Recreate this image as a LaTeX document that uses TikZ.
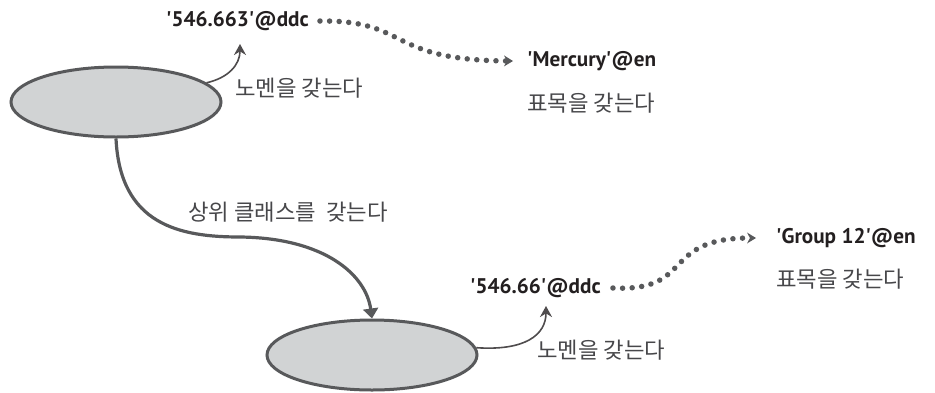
\documentclass[tikz,border=0pt]{standalone}
\usepackage{fontspec}
\setmainfont{PT Sans}
\newfontfamily\krfont{Noto Sans CJK KR}
\usetikzlibrary{arrows.meta,shapes.geometric}
\definecolor{linec}{HTML}{58595B}
\definecolor{fillc}{HTML}{D1D3D4}
\definecolor{txtc}{HTML}{231F20}
\definecolor{krc}{HTML}{47474A}
\newcommand{\sq}{\textquotesingle}
\tikzset{
  cls/.style={ellipse, draw=linec, fill=fillc, line width=3pt, minimum width=210pt, minimum height=70pt, inner sep=0pt},
  lit/.style={font=\fontsize{21.2}{23}\selectfont\bfseries, text=txtc, inner sep=0pt, anchor=west},
  kr/.style={font=\krfont\fontsize{22.3}{24}\selectfont, text=krc, inner sep=0pt, anchor=west},
  dotline/.style={draw=linec, line width=5.5pt, line cap=round, dash pattern=on 0pt off 9.6pt, -{Stealth[length=9pt,width=11pt,line width=0pt]}},
  thin/.style={draw=txtc!80, line width=1.6pt, -{Stealth[length=11pt,width=12pt]}},
  thick/.style={draw=linec, line width=3.2pt, -{Triangle[length=10pt,width=15pt]}}
}
\begin{document}
\begin{tikzpicture}[x=1pt,y=-1pt]
\useasboundingbox (0,0) rectangle (935,392);
\node[cls] (e1) at (116,102) {};
\node[cls] (e2) at (372,355) {};
\node[lit] (t1) at (166,21) {\sq546.663\sq@ddc};
\node[lit] (m1) at (527,61) {\sq Mercury\sq@en};
\node[kr] (h1) at (527,103) {표목을 갖는다};
\node[kr] (n1) at (235,88) {노멘을 갖는다};
\node[kr] (s1) at (188,212) {상위 클래스를\ \ 갖는다};
\node[lit] (t2) at (470,288) {\sq546.66\sq@ddc};
\node[lit] (g1) at (776,238) {\sq Group 12\sq@en};
\node[kr] (h2) at (776,279) {표목을 갖는다};
\node[kr] (n2) at (537,350) {노멘을 갖는다};
\coordinate (n1tip) at (240,44);
\coordinate (n2tip) at (546,306);
\draw[thin] (e1.12) .. controls (228,78) and (240,65) .. (n1tip);
\draw[thin] (e2.4) .. controls (525,351) and (546,335) .. (n2tip);
\draw[dotline] ([xshift=11pt]t1.east) .. controls (410,20) and (385,60) .. ([xshift=-14pt]m1.west);
\draw[dotline] ([xshift=12pt]t2.east) .. controls (695,292) and (660,238) .. ([xshift=-20pt]g1.west);
\draw[thick] (e1.south) .. controls (120,225) and (180,237) .. (240,237) .. controls (325,238) and (366,275) .. (e2.north);
\end{tikzpicture}
\end{document}
